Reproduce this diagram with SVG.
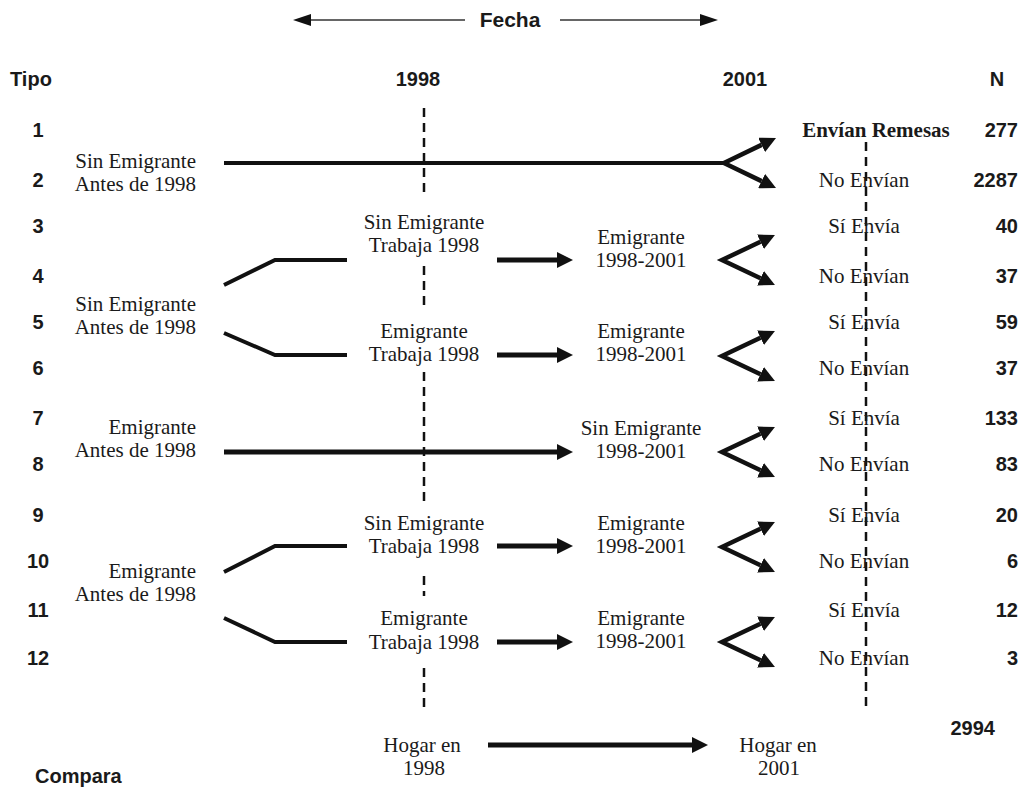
<svg xmlns="http://www.w3.org/2000/svg" width="1022" height="804" viewBox="0 0 1022 804">
<defs>
<style>
.s{font-family:"Liberation Serif","Times New Roman",serif;font-size:21px;fill:#1a1a1a;text-anchor:middle}
.sr{font-family:"Liberation Serif","Times New Roman",serif;font-size:21px;fill:#1a1a1a;text-anchor:end}
.b{font-family:"Liberation Sans",Arial,sans-serif;font-size:20px;font-weight:700;fill:#1a1a1a;text-anchor:middle}
.bn{font-family:"Liberation Sans",Arial,sans-serif;font-size:20px;font-weight:700;fill:#1a1a1a;text-anchor:end}
.ln{fill:none;stroke:#111;stroke-width:4}
.ar{fill:none;stroke:#111;stroke-width:5}
.fk{fill:none;stroke:#111;stroke-width:4.5;marker-start:url(#fh);marker-end:url(#fh)}
.dash{fill:none;stroke:#111;stroke-width:2.5;stroke-dasharray:9 6}
.thin{fill:none;stroke:#333;stroke-width:1.5}
</style>
<marker id="ah" viewBox="0 0 16 16" refX="0" refY="8" markerWidth="16" markerHeight="16" markerUnits="userSpaceOnUse" orient="auto"><path d="M0,0 L16,8 L0,16 z" fill="#111"/></marker>
<marker id="fh" viewBox="0 0 16 16" refX="0" refY="8" markerWidth="16" markerHeight="16" markerUnits="userSpaceOnUse" orient="auto-start-reverse"><path d="M0,0 L16,8 L0,16 z" fill="#111"/></marker>
<marker id="th" viewBox="0 0 18 12" refX="0" refY="6" markerWidth="18" markerHeight="12" markerUnits="userSpaceOnUse" orient="auto-start-reverse"><path d="M0,0 L18,6 L0,12 z" fill="#111"/></marker>
</defs>
<rect width="1022" height="804" fill="#fff"/>

<g id="header">
<path class="thin" d="M311,20 L465,20" marker-start="url(#th)"/>
<path class="thin" d="M560,20 L700,20" marker-end="url(#th)"/>
<text class="b" x="510" y="27" style="font-size:21px">Fecha</text>
<text class="b" x="10" y="86" style="text-anchor:start">Tipo</text>
<text class="b" x="418" y="86">1998</text>
<text class="b" x="745" y="86">2001</text>
<text class="b" x="997" y="86">N</text>
</g>

<g id="tipo">
<text class="b" x="38" y="137">1</text>
<text class="b" x="38" y="187">2</text>
<text class="b" x="38" y="233">3</text>
<text class="b" x="38" y="283">4</text>
<text class="b" x="38" y="329">5</text>
<text class="b" x="38" y="375">6</text>
<text class="b" x="38" y="425">7</text>
<text class="b" x="38" y="471">8</text>
<text class="b" x="38" y="522">9</text>
<text class="b" x="38" y="568">10</text>
<text class="b" x="38" y="617">11</text>
<text class="b" x="38" y="665">12</text>
</g>

<g id="axes">
<path class="dash" d="M424,108 V194"/>
<path class="dash" d="M424,266 V306"/>
<path class="dash" d="M424,372 V506"/>
<path class="dash" d="M424,576 V596"/>
<path class="dash" d="M424,668 V712"/>
<path class="dash" d="M866,142 V712"/>
</g>

<g id="connectors">
<path class="ln" d="M224,163 L724,163"/>
<path class="fk" d="M761.6,144.9 L724,163 L761.6,181.1"/>
<path class="ln" d="M224,285 L275,260 L347,260"/>
<path class="ar" d="M497,260 L557,260" marker-end="url(#ah)"/>
<path class="fk" d="M760.5,241.8 L722,260 L760.5,278.2"/>
<path class="ln" d="M224,333 L275,355 L347,355"/>
<path class="ar" d="M497,355 L557,355" marker-end="url(#ah)"/>
<path class="fk" d="M760.5,337.8 L722,356 L760.5,374.2"/>
<path class="ar" d="M224,452 L557,452" marker-end="url(#ah)"/>
<path class="fk" d="M760.5,433.8 L722,452 L760.5,470.2"/>
<path class="ln" d="M224,572 L275,546 L347,546"/>
<path class="ar" d="M497,546 L557,546" marker-end="url(#ah)"/>
<path class="fk" d="M760.5,528.8 L722,547 L760.5,565.2"/>
<path class="ln" d="M224,618 L275,642 L347,642"/>
<path class="ar" d="M497,642 L557,642" marker-end="url(#ah)"/>
<path class="fk" d="M760.5,623.8 L722,642 L760.5,660.2"/>
<path class="ar" d="M488,745 L692,745" marker-end="url(#ah)"/>
</g>

<g id="origen-a"><text class="sr" x="196" y="168">Sin Emigrante</text><text class="sr" x="196" y="191">Antes de 1998</text></g>
<g id="origen-b"><text class="sr" x="196" y="311">Sin Emigrante</text><text class="sr" x="196" y="334">Antes de 1998</text></g>
<g id="origen-c"><text class="sr" x="196" y="434">Emigrante</text><text class="sr" x="196" y="457">Antes de 1998</text></g>
<g id="origen-d"><text class="sr" x="196" y="578">Emigrante</text><text class="sr" x="196" y="601">Antes de 1998</text></g>

<g id="t98-a"><text class="s" x="424" y="229">Sin Emigrante</text><text class="s" x="424" y="252">Trabaja 1998</text></g>
<g id="t98-b"><text class="s" x="424" y="338">Emigrante</text><text class="s" x="424" y="361">Trabaja 1998</text></g>
<g id="t98-c"><text class="s" x="424" y="530">Sin Emigrante</text><text class="s" x="424" y="553">Trabaja 1998</text></g>
<g id="t98-d"><text class="s" x="424" y="625">Emigrante</text><text class="s" x="424" y="649">Trabaja 1998</text></g>

<g id="e01-a"><text class="s" x="641" y="244">Emigrante</text><text class="s" x="641" y="267">1998-2001</text></g>
<g id="e01-b"><text class="s" x="641" y="338">Emigrante</text><text class="s" x="641" y="361">1998-2001</text></g>
<g id="e01-c"><text class="s" x="641" y="435">Sin Emigrante</text><text class="s" x="641" y="458">1998-2001</text></g>
<g id="e01-d"><text class="s" x="641" y="530">Emigrante</text><text class="s" x="641" y="553">1998-2001</text></g>
<g id="e01-e"><text class="s" x="641" y="625">Emigrante</text><text class="s" x="641" y="648">1998-2001</text></g>

<g id="remesas">
<text class="s" x="876" y="137" style="font-weight:700">Envían Remesas</text>
<text class="s" x="864" y="187">No Envían</text>
<text class="s" x="864" y="233">Sí Envía</text>
<text class="s" x="864" y="283">No Envían</text>
<text class="s" x="864" y="329">Sí Envía</text>
<text class="s" x="864" y="375">No Envían</text>
<text class="s" x="864" y="425">Sí Envía</text>
<text class="s" x="864" y="471">No Envían</text>
<text class="s" x="864" y="522">Sí Envía</text>
<text class="s" x="864" y="568">No Envían</text>
<text class="s" x="864" y="617">Sí Envía</text>
<text class="s" x="864" y="665">No Envían</text>
</g>

<g id="n">
<text class="bn" x="1018" y="137">277</text>
<text class="bn" x="1018" y="187">2287</text>
<text class="bn" x="1018" y="233">40</text>
<text class="bn" x="1018" y="283">37</text>
<text class="bn" x="1018" y="329">59</text>
<text class="bn" x="1018" y="375">37</text>
<text class="bn" x="1018" y="425">133</text>
<text class="bn" x="1018" y="471">83</text>
<text class="bn" x="1018" y="522">20</text>
<text class="bn" x="1018" y="568">6</text>
<text class="bn" x="1018" y="617">12</text>
<text class="bn" x="1018" y="665">3</text>
<text class="bn" x="995" y="735">2994</text>
</g>

<g id="compara">
<text class="b" x="35" y="783" style="text-anchor:start">Compara</text>
<text class="s" x="422" y="752">Hogar en</text>
<text class="s" x="424" y="775">1998</text>
<text class="s" x="778" y="752">Hogar en</text>
<text class="s" x="779" y="775">2001</text>
</g>
</svg>
